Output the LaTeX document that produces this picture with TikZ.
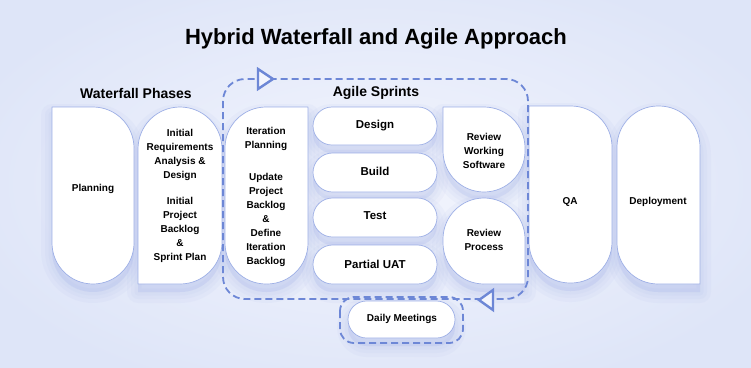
\documentclass[tikz,border=0pt]{standalone}
\usepackage{fontspec}
\setmainfont{Liberation Sans}
\definecolor{bgA}{HTML}{F3F5FD}
\definecolor{bgB}{HTML}{DEE5F8}
\definecolor{edgec}{HTML}{9DAFE6}
\definecolor{dashc}{HTML}{6D87D6}
\definecolor{shd}{HTML}{8A9EE2}
\pgfdeclarelayer{back}
\pgfdeclarelayer{shadow}
\pgfsetlayers{back,shadow,main}
\newcommand\cpath[8]{(#1+#5,#2) -- (#3-#6,#2) arc[start angle=-90,end angle=0,radius=#6pt] -- (#3,#4-#7) arc[start angle=0,end angle=90,radius=#7pt] -- (#1+#8,#4) arc[start angle=90,end angle=180,radius=#8pt] -- (#1,#2+#5) arc[start angle=180,end angle=270,radius=#5pt] -- cycle}
\newcommand\shp[8]{%
  \begin{pgfonlayer}{shadow}
    \foreach \w in {22,14,7}{\filldraw[shd,opacity=0.055,line width=\w pt,line join=round,shift={(0,8)}] \cpath{#1}{#2}{#3}{#4}{#5}{#6}{#7}{#8};}
  \end{pgfonlayer}
  \filldraw[shapebox] \cpath{#1}{#2}{#3}{#4}{#5}{#6}{#7}{#8};}
\tikzset{
  shapebox/.style={fill=white,draw=edgec,line width=0.7pt},
  lbl/.style={font=\fontsize{10}{14}\selectfont\bfseries,align=center,text=black},
  lblbig/.style={font=\fontsize{11.5}{14}\selectfont\bfseries,align=center,text=black},
  looppath/.style={draw=dashc,line width=1.8pt,dash pattern=on 7pt off 4pt},
  tri/.style={draw=dashc,fill=bgA,line width=2.4pt,line join=miter},
}
\begin{document}
\begin{tikzpicture}[x=1pt,y=1pt,yscale=-1]
\useasboundingbox (0,0) rectangle (751,367);
\begin{pgfonlayer}{back}
\shade[inner color=bgA,outer color=bgB] (-60,-40) rectangle (811,407);
\end{pgfonlayer}

\node[font=\fontsize{22}{26}\selectfont\bfseries] (title) at (376,39) {Hybrid Waterfall and Agile Approach};
\node[font=\fontsize{14}{16}\selectfont\bfseries] (wf) at (136,93) {Waterfall Phases};
\node[font=\fontsize{14}{16}\selectfont\bfseries] (ag) at (376,93) {Agile Sprints};

% shapes: x1 y1 x2 y2 rTL rTR rBR rBL
\shp{52}{107}{134}{284}{0.01}{41}{41}{41}
\shp{138}{107}{222}{284}{42}{42}{42}{0.01}
\shp{225}{107}{308}{284}{41}{0.01}{41}{41}
\shp{313}{107}{437}{145}{19}{19}{19}{19}
\shp{313}{153}{437}{192}{19.5}{19.5}{19.5}{19.5}
\shp{313}{198}{437}{237}{19.5}{19.5}{19.5}{19.5}
\shp{313}{245}{437}{284}{19.5}{19.5}{19.5}{19.5}
\shp{443}{107}{525}{192}{0.01}{41}{41}{41}
\shp{443}{198}{525}{284}{41}{41}{0.01}{41}
\shp{529}{106}{612}{283}{0.01}{41}{41}{41}
\shp{617}{106}{700}{284}{41}{41}{0.01}{41}
\shp{348}{301}{455}{338}{18.5}{18.5}{18.5}{18.5}

\node[lbl] (planning) at (93,189) {Planning};
\node[lbl] (initreq) at (180,196) {Initial\\Requirements\\Analysis \&\\Design\\[12pt]Initial\\Project\\Backlog\\\&\\Sprint Plan};
\node[lbl] (iter) at (266,197) {Iteration\\Planning\\[18pt]Update\\Project\\Backlog\\\&\\Define\\Iteration\\Backlog};
\node[lblbig] (design) at (375,126) {Design};
\node[lblbig] (build) at (375,171) {Build};
\node[lblbig] (test) at (375,216) {Test};
\node[lblbig] (uat) at (375,264) {Partial UAT};
\node[lbl] (rws) at (484,151) {Review\\Working\\Software};
\node[lbl] (rp) at (484,240) {Review\\Process};
\node[lbl] (qa) at (570,202) {QA};
\node[lbl] (deploy) at (658,202) {Deployment};
\node[lbl] (daily) at (402,319) {Daily Meetings};

% sprint loop
\draw[looppath,rounded corners=22pt] (223,79) rectangle (528,299);
\draw[looppath,rounded corners=14pt] (340,297) rectangle (463,343);
\filldraw[tri] (258,69) -- (258,89) -- (273,79) -- cycle;
\filldraw[tri] (493,290) -- (493,310) -- (479,300) -- cycle;
\end{tikzpicture}
\end{document}
